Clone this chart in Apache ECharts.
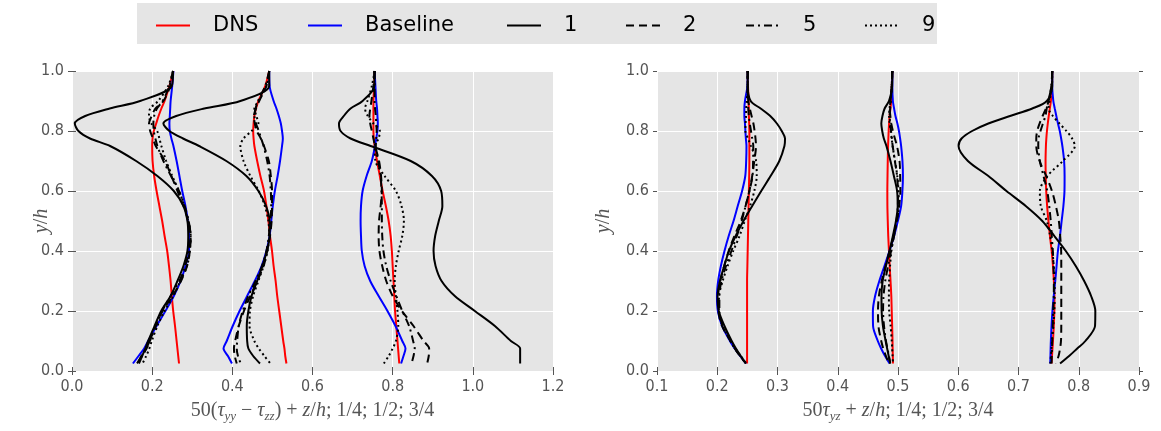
<!DOCTYPE html>
<html><head><meta charset="utf-8">
<script src="https://cdn.jsdelivr.net/npm/echarts@6/dist/echarts.min.js"></script>
<style>html,body{margin:0;padding:0;background:#fff}#c{width:1161px;height:431px}</style>
</head><body><div id="c"></div>
<script>
// y positions (y/h) shared by every profile, top to bottom
const yLevels = [1.0,0.95,0.9,0.875,0.85,0.825,0.8,0.775,0.75,0.7,0.65,0.6,0.55,0.5,0.45,0.4,0.35,0.3,0.25,0.2,0.15,0.1,0.075,0.05,0.025];

const seriesNames = ['DNS','Baseline','1','2','5','9'];
const leftXTicks = [0.0,0.2,0.4,0.6,0.8,1.0,1.2];
const rightXTicks = [0.1,0.2,0.3,0.4,0.5,0.6,0.7,0.8,0.9];
const yTicks = [0.0,0.2,0.4,0.6,0.8,1.0];

// Left panel: 50(tau_yy - tau_zz) + z/h, profiles at z/h = 1/4, 1/2, 3/4
const dnsLeft = [
 [0.253,0.243,0.231,0.223,0.216,0.210,0.204,0.201,0.200,0.201,0.205,0.211,0.218,0.225,0.231,0.2375,0.242,0.246,0.249,0.2525,0.257,0.261,0.263,0.265,0.267],
 [0.492,0.482,0.465,0.459,0.455,0.453,0.452,0.453,0.455,0.462,0.470,0.479,0.485,0.490,0.494,0.499,0.503,0.508,0.512,0.517,0.522,0.527,0.530,0.532,0.535],
 [0.755,0.754,0.752,0.752,0.752,0.752,0.752,0.753,0.755,0.761,0.768,0.775,0.783,0.790,0.795,0.798,0.800,0.802,0.804,0.806,0.809,0.812,0.8135,0.815,0.8165]
];
const baseLeft = [
 [0.253,0.250,0.246,0.245,0.244,0.243,0.244,0.248,0.253,0.261,0.268,0.275,0.283,0.289,0.292,0.292,0.283,0.271,0.254,0.233,0.211,0.190,0.180,0.166,0.152],
 [0.492,0.493,0.503,0.510,0.516,0.521,0.524,0.526,0.524,0.519,0.513,0.506,0.501,0.497,0.493,0.485,0.473,0.456,0.437,0.418,0.401,0.386,0.378,0.389,0.399],
 [0.755,0.757,0.759,0.761,0.762,0.763,0.762,0.759,0.756,0.748,0.735,0.725,0.721,0.720,0.721,0.723,0.730,0.744,0.765,0.787,0.807,0.824,0.832,0.827,0.821]
];
const m1Left = [
 [0.252,0.249,0.170,0.094,0.033,0.007,0.016,0.045,0.095,0.160,0.213,0.254,0.278,0.288,0.290,0.288,0.278,0.263,0.246,0.2225,0.206,0.190,0.183,0.175,0.167],
 [0.492,0.492,0.420,0.330,0.260,0.228,0.243,0.277,0.317,0.385,0.435,0.465,0.484,0.493,0.493,0.486,0.475,0.462,0.448,0.440,0.436,0.437,0.440,0.452,0.469],
 [0.7545,0.7545,0.725,0.695,0.678,0.666,0.670,0.695,0.745,0.845,0.898,0.921,0.924,0.915,0.906,0.902,0.907,0.922,0.955,1.005,1.055,1.095,1.118,1.118,1.118]
];
const m2Left = [
 [0.252,0.245,0.228,0.208,0.199,0.192,0.195,0.202,0.209,0.232,0.248,0.263,0.278,0.290,0.296,0.294,0.287,0.272,0.251,0.226,0.208,0.194,0.186,0.175,0.162],
 [0.492,0.485,0.467,0.459,0.454,0.456,0.461,0.471,0.479,0.491,0.496,0.499,0.499,0.498,0.494,0.487,0.478,0.462,0.445,0.429,0.416,0.407,0.404,0.406,0.411],
 [0.755,0.752,0.747,0.744,0.742,0.744,0.748,0.752,0.756,0.766,0.771,0.773,0.770,0.766,0.765,0.767,0.774,0.784,0.800,0.823,0.852,0.877,0.891,0.890,0.886]
];
const m5Left = [
 [0.252,0.243,0.226,0.212,0.205,0.203,0.204,0.208,0.213,0.228,0.247,0.267,0.281,0.291,0.296,0.292,0.282,0.268,0.246,0.225,0.209,0.194,0.184,0.173,0.163],
 [0.492,0.482,0.464,0.458,0.455,0.459,0.466,0.472,0.478,0.487,0.493,0.496,0.497,0.495,0.491,0.485,0.474,0.458,0.440,0.426,0.416,0.412,0.411,0.414,0.421],
 [0.755,0.755,0.755,0.756,0.758,0.759,0.760,0.759,0.758,0.764,0.770,0.772,0.773,0.773,0.774,0.777,0.784,0.795,0.809,0.824,0.841,0.851,0.855,0.852,0.847]
];
const m9Left = [
 [0.252,0.240,0.215,0.195,0.192,0.198,0.2125,0.218,0.223,0.235,0.250,0.267,0.280,0.290,0.296,0.294,0.287,0.270,0.253,0.231,0.213,0.199,0.193,0.185,0.176],
 [0.492,0.485,0.465,0.455,0.460,0.465,0.448,0.428,0.420,0.428,0.445,0.466,0.481,0.490,0.492,0.488,0.478,0.465,0.452,0.444,0.443,0.455,0.466,0.480,0.495],
 [0.755,0.748,0.737,0.731,0.738,0.752,0.768,0.765,0.755,0.757,0.780,0.808,0.822,0.828,0.824,0.815,0.808,0.805,0.808,0.812,0.814,0.808,0.800,0.790,0.778]
];

// Right panel: 50 tau_yz + z/h, profiles at z/h = 1/4, 1/2, 3/4
const dnsRight = [
 [0.2505,0.251,0.252,0.2523,0.2525,0.253,0.2533,0.2533,0.2533,0.2533,0.253,0.2525,0.252,0.2515,0.251,0.2505,0.250,0.2495,0.2495,0.2495,0.2495,0.2495,0.2495,0.2495,0.2495],
 [0.4906,0.4898,0.4888,0.4875,0.486,0.4852,0.4845,0.484,0.4835,0.483,0.4826,0.4823,0.4824,0.483,0.4838,0.485,0.4862,0.4876,0.4889,0.4896,0.4903,0.4909,0.4911,0.4914,0.4917],
 [0.756,0.7555,0.7538,0.752,0.7502,0.7486,0.7472,0.7462,0.7455,0.7449,0.7452,0.746,0.7475,0.7497,0.7522,0.755,0.7572,0.7587,0.7597,0.7595,0.7586,0.7572,0.7564,0.7556,0.7549]
];
const baseRight = [
 [0.2505,0.250,0.246,0.245,0.245,0.246,0.2467,0.2475,0.2485,0.248,0.2465,0.2412,0.234,0.227,0.219,0.212,0.206,0.2015,0.1995,0.201,0.208,0.221,0.229,0.238,0.2475],
 [0.4906,0.4906,0.4915,0.4935,0.4958,0.499,0.5016,0.5035,0.5052,0.5074,0.5082,0.5073,0.5052,0.4998,0.4935,0.4858,0.4775,0.469,0.462,0.4583,0.4586,0.4665,0.472,0.4785,0.486],
 [0.756,0.756,0.7578,0.7602,0.7628,0.7655,0.7685,0.7708,0.7728,0.7757,0.7765,0.7763,0.7745,0.7716,0.7688,0.7654,0.7632,0.761,0.7585,0.7563,0.7548,0.7537,0.7533,0.753,0.7526]
];
const m1Right = [
 [0.2505,0.2505,0.2555,0.272,0.288,0.299,0.307,0.3125,0.3115,0.303,0.2885,0.273,0.258,0.2435,0.2305,0.2195,0.2115,0.2045,0.2005,0.2025,0.212,0.224,0.231,0.239,0.2475],
 [0.4906,0.4903,0.485,0.4778,0.4742,0.4723,0.4738,0.4765,0.4808,0.4875,0.4932,0.4985,0.4995,0.4966,0.4915,0.486,0.480,0.4745,0.4726,0.4728,0.475,0.4795,0.482,0.4845,0.487],
 [0.756,0.756,0.747,0.723,0.686,0.650,0.623,0.6055,0.6005,0.616,0.650,0.680,0.712,0.7395,0.7595,0.7785,0.795,0.809,0.8205,0.8275,0.827,0.811,0.7975,0.784,0.769]
];
const m2Right = [
 [0.2505,0.2505,0.2515,0.254,0.257,0.260,0.262,0.2635,0.2643,0.2615,0.258,0.2533,0.247,0.239,0.2285,0.219,0.2115,0.205,0.2015,0.202,0.208,0.222,0.229,0.238,0.2475],
 [0.4906,0.4895,0.4875,0.4862,0.4873,0.4888,0.4915,0.4948,0.4984,0.5025,0.5036,0.5039,0.5018,0.4983,0.4925,0.486,0.4793,0.473,0.4683,0.4668,0.4675,0.4722,0.4755,0.480,0.485],
 [0.756,0.7545,0.750,0.7455,0.740,0.735,0.731,0.7295,0.7295,0.735,0.746,0.7555,0.762,0.767,0.7692,0.7708,0.771,0.771,0.771,0.771,0.771,0.7705,0.769,0.7665,0.762]
];
const m5Right = [
 [0.2505,0.2505,0.251,0.2515,0.2525,0.254,0.256,0.258,0.2598,0.2595,0.2585,0.2535,0.247,0.2405,0.2325,0.2235,0.2145,0.207,0.2035,0.2035,0.209,0.222,0.229,0.238,0.2475],
 [0.4906,0.4896,0.488,0.487,0.4862,0.4872,0.4885,0.4898,0.4912,0.4948,0.4985,0.500,0.4998,0.4975,0.4935,0.4885,0.4835,0.4788,0.476,0.4752,0.4768,0.480,0.4825,0.485,0.4872],
 [0.756,0.7548,0.7495,0.7468,0.7447,0.7405,0.7365,0.7332,0.7328,0.7355,0.7415,0.7477,0.751,0.7535,0.7552,0.757,0.758,0.7587,0.7585,0.7575,0.7568,0.756,0.7556,0.7552,0.7548]
];
const m9Right = [
 [0.2505,0.2505,0.249,0.248,0.2478,0.247,0.2467,0.251,0.256,0.2645,0.2655,0.2615,0.2545,0.2455,0.237,0.2265,0.2172,0.209,0.203,0.2025,0.209,0.2225,0.230,0.239,0.2485],
 [0.4906,0.4895,0.4875,0.486,0.4852,0.4862,0.488,0.4895,0.491,0.495,0.4988,0.5008,0.5015,0.4975,0.4928,0.489,0.4868,0.4852,0.4849,0.4853,0.4878,0.4896,0.4903,0.491,0.4917],
 [0.756,0.7555,0.7515,0.750,0.757,0.768,0.7795,0.789,0.7935,0.7735,0.748,0.7355,0.737,0.747,0.7525,0.7562,0.7585,0.760,0.760,0.7595,0.7578,0.7556,0.7547,0.7538,0.7528]
];

const panelData = [
  [dnsLeft, baseLeft, m1Left, m2Left, m5Left, m9Left],
  [dnsRight, baseRight, m1Right, m2Right, m5Right, m9Right]
];

const lineStyles = {
  'DNS':      {color:'#ff0000', type:'solid'},
  'Baseline': {color:'#0000ff', type:'solid'},
  '1':        {color:'#000000', type:'solid'},
  '2':        {color:'#000000', type:[8,5]},
  '5':        {color:'#000000', type:[8,4,2,4]},
  '9':        {color:'#000000', type:[2,3]}
};

const series = [];
panelData.forEach((sets, p) => {
  sets.forEach((profiles, si) => {
    const name = seriesNames[si];
    profiles.forEach(vals => {
      series.push({
        type:'line', name, xAxisIndex:p, yAxisIndex:p,
        data: vals.map((x,i)=>[x, yLevels[i]]),
        showSymbol:false, symbol:'none', smooth:0.3,
        color: lineStyles[name].color,
        lineStyle:{color:lineStyles[name].color, width:2, type:lineStyles[name].type},
        emphasis:{disabled:true}, z: 2 + si
      });
    });
  });
});

const tickFont = {color:'#555', fontSize:16, fontFamily:"'DejaVu Sans Condensed','Liberation Sans Narrow','DejaVu Sans'"};
const fmt = v => v.toFixed(1);
const mathFont = "'Liberation Serif','DejaVu Serif',serif";
const mathRich = {
  n:{fontFamily:mathFont, fontSize:20, color:'#555', lineHeight:24},
  i:{fontFamily:mathFont, fontSize:20, fontStyle:'italic', color:'#555', lineHeight:24},
  s:{fontFamily:mathFont, fontSize:13, fontStyle:'italic', color:'#555', lineHeight:10, verticalAlign:'bottom'}
};
function bottomX(grid, ticks, nameRich) {
  return {type:'value', gridIndex:grid, min:ticks[0], max:ticks[ticks.length-1],
    interval: +(ticks[1]-ticks[0]).toFixed(6), position:'bottom',
    axisLine:{show:false}, axisTick:{show:true, length:4, lineStyle:{color:'#555'}},
    splitLine:{show:true, lineStyle:{color:'#ffffff', width:1}},
    axisLabel:{...tickFont, formatter:fmt, margin:8},
    name: nameRich, nameLocation:'middle', nameGap:28, nameMoveOverlap:false,
    nameTextStyle:{rich:mathRich}};
}
function topX(grid, ticks) {
  return {type:'value', gridIndex:grid, min:ticks[0], max:ticks[ticks.length-1],
    interval: +(ticks[1]-ticks[0]).toFixed(6), position:'top',
    axisLine:{show:false}, axisTick:{show:true, length:4, lineStyle:{color:'#555'}},
    splitLine:{show:false}, axisLabel:{show:false}};
}
function leftY(grid, gap) {
  return {type:'value', gridIndex:grid, min:yTicks[0], max:yTicks[yTicks.length-1],
    interval:0.2, position:'left',
    axisLine:{show:false}, axisTick:{show:true, length:4, lineStyle:{color:'#555'}},
    splitLine:{show:true, lineStyle:{color:'#ffffff', width:1}},
    axisLabel:{...tickFont, formatter:fmt, margin:8},
    name:'{i|y}{n|/}{i|h}', nameLocation:'middle', nameGap:gap, nameRotate:90, nameMoveOverlap:false,
    nameTextStyle:{rich:mathRich}};
}
function rightY(grid) {
  return {type:'value', gridIndex:grid, min:yTicks[0], max:yTicks[yTicks.length-1],
    interval:0.2, position:'right',
    axisLine:{show:false}, axisTick:{show:true, length:4, lineStyle:{color:'#555'}},
    splitLine:{show:false}, axisLabel:{show:false}};
}

const legendLefts = [150, 302, 501, 620, 740, 859];
const legends = seriesNames.map((n,i)=>({
  data:[n], left:legendLefts[i], top:10, itemWidth:34, itemHeight:14, itemGap:0,
  itemStyle:{opacity:0, borderWidth:0},
  textStyle:{fontSize:21, fontFamily:"'DejaVu Sans'", color:'#000', padding:[0,0,0,18]},
  selectedMode:false
}));

const chart = echarts.init(document.getElementById('c'), null, {renderer:'canvas'});
chart.setOption({
  animation:false,
  backgroundColor:'#ffffff',
  graphic:[{type:'rect', left:137, top:3, shape:{width:800, height:41}, style:{fill:'#e5e5e5'}, z:-1, silent:true}],
  legend: legends,
  grid:[
    {left:72, top:71, width:481, height:300, show:true, backgroundColor:'#e5e5e5', borderWidth:0},
    {left:657, top:71, width:482, height:300, show:true, backgroundColor:'#e5e5e5', borderWidth:0}
  ],
  xAxis:[
    bottomX(0, leftXTicks, '{n|50(}{i|τ}{s|yy}{n| − }{i|τ}{s|zz}{n|) + }{i|z}{n|/}{i|h}{n|; 1/4; 1/2; 3/4}'),
    bottomX(1, rightXTicks, '{n|50}{i|τ}{s|yz}{n| + }{i|z}{n|/}{i|h}{n|; 1/4; 1/2; 3/4}'),
    topX(0, leftXTicks), topX(1, rightXTicks)
  ],
  yAxis:[ leftY(0, 18), leftY(1, 41), rightY(0), rightY(1) ],
  series
});
</script></body></html>
